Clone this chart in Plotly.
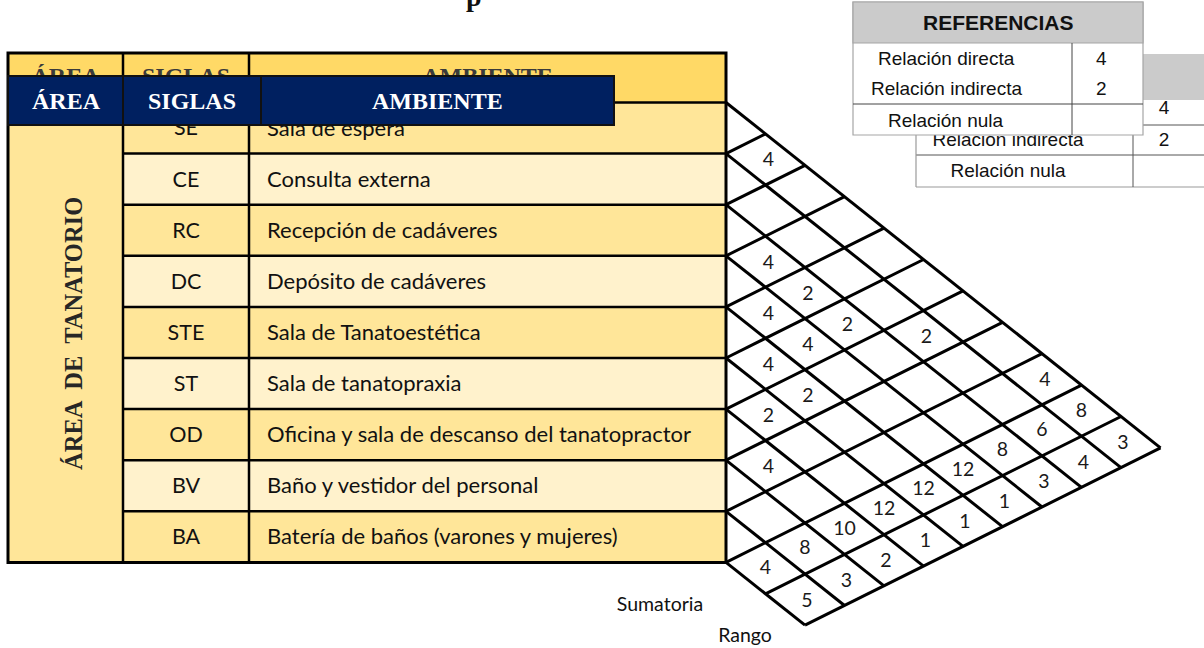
import plotly.graph_objects as go

# ---------------- data ----------------
siglas = ["SE", "CE", "RC", "DC", "STE", "ST", "OD", "BV", "BA"]
ambientes = [
    "Sala de espera",
    "Consulta externa",
    "Recepción de cadáveres",
    "Depósito de cadáveres",
    "Sala de Tanatoestética",
    "Sala de tanatopraxia",
    "Oficina y sala de descanso del tanatopractor",
    "Baño y vestidor del personal",
    "Batería de baños (varones y mujeres)",
]
area_label = "ÁREA  DE  TANATORIO"
header_labels = ["ÁREA", "SIGLAS", "AMBIENTE"]
# relationship matrix (row index i, row index j, value)
rel_from = [0, 0, 1, 2, 2, 2, 3, 3, 4, 4, 5, 6]
rel_to = [1, 8, 6, 3, 4, 5, 4, 5, 5, 6, 6, 7]
rel_value = [4, 4, 2, 4, 2, 2, 4, 4, 4, 2, 2, 4]
sumatoria = [8, 6, 8, 12, 12, 12, 10, 8, 4]
rango = [3, 4, 3, 1, 1, 1, 2, 3, 5]
extra_rows = ["Sumatoria", "Rango"]
ref_title = "REFERENCIAS"
ref_labels = ["Relación directa", "Relación indirecta", "Relación nula"]
ref_values = ["4", "2", ""]
title_fragment = "p"

# ---------------- layout constants ----------------
W, H = 1204, 648
X0, XA, XS, XR = 8, 123, 249, 726
Y_TOP, Y_HDR, RH = 53, 102.5, 51.1
UX, UY = 39.5, 31.4
N = len(siglas)

NAVY = "#002060"
Y_HEAD = "#FFD966"
Y_DARK = "#FFE699"
Y_LIGHT = "#FFF2CC"
SERIF = "Liberation Serif, Times New Roman, serif"
SANS = "Lato, Carlito, Calibri, sans-serif"
NARROW = "Liberation Sans Narrow, Arial Narrow, Liberation Sans, sans-serif"


def row_y(k):
    return Y_HDR + k * RH


def lat(a, b):
    d = b - a
    return XR + d * UX, row_y(a) + d * UY


def center(i, j):
    d = j - i
    return XR + d * UX, Y_HDR + (i + 0.5) * RH + d * UY


shapes = []


def rect(x0, y0, x1, y1, fill=None, color=None, width=0, layer="below"):
    shapes.append(dict(type="rect", xref="x", yref="y", x0=x0, y0=y0, x1=x1, y1=y1,
                       fillcolor=fill if fill else "rgba(0,0,0,0)",
                       line=dict(color=color if color else "rgba(0,0,0,0)", width=width),
                       layer=layer))


def line(x0, y0, x1, y1, color="black", width=3, layer="below"):
    shapes.append(dict(type="line", xref="x", yref="y", x0=x0, y0=y0, x1=x1, y1=y1,
                       line=dict(color=color, width=width), layer=layer))


# ---- table fills ----
rect(X0, Y_TOP, XR, Y_HDR, fill=Y_HEAD)
rect(X0, Y_HDR, XA, row_y(N), fill=Y_DARK)
for k in range(N):
    rect(XA, row_y(k), XR, row_y(k + 1), fill=Y_DARK if k % 2 == 0 else Y_LIGHT)
# ---- table lines ----
line(X0, Y_HDR, XR, Y_HDR, width=2.5)
for k in range(1, N):
    line(XA, row_y(k), XR, row_y(k), width=2.5)
line(XA, Y_TOP, XA, row_y(N), width=2.5)
line(XS, Y_TOP, XS, row_y(N), width=2.5)
rect(X0, Y_TOP, XR, row_y(N), color="black", width=3)

# ---- relationship grid ----
NB = N + 2
for a in range(N + 1):
    xa, ya = lat(a, a)
    xb, yb = lat(a, NB)
    line(xa, ya, xb, yb, width=3)
for b in range(1, NB + 1):
    xa, ya = lat(min(b, N), b)
    xb, yb = lat(0, b)
    line(xa, ya, xb, yb, width=3)

# ---- back legend box (below) ----
BX0, BXD = 916, 1133
rect(BX0, 54, W + 5, 100, fill="#CBCBCB")
line(BX0, 125, W + 5, 125, color="#555555", width=1)
line(BX0, 155, W + 5, 155, color="#555555", width=1)
line(BX0, 187, W + 5, 187, color="#9A9A9A", width=1.2)
line(BX0, 54, BX0, 187, color="#9A9A9A", width=1.2)
line(BXD, 100, BXD, 187, color="#555555", width=1)

# ---- navy header box (above) ----
rect(X0, 76, 614, 125, fill=NAVY, color="#111111", width=2, layer="above")
line(XA, 76, XA, 125, color="#111111", width=2, layer="above")
line(261, 76, 261, 125, color="#111111", width=2, layer="above")

# ---- front legend box (above) ----
FX0, FX1, FXD = 853, 1143, 1072
rect(FX0, 2, FX1, 135, fill="white", color="#A6A6A6", width=1.2, layer="above")
rect(FX0, 2, FX1, 43, fill="#CBCBCB", color="#A6A6A6", width=1.2, layer="above")
line(FX0, 104, FX1, 104, color="#444444", width=1, layer="above")
line(FXD, 43, FXD, 135, color="#444444", width=1, layer="above")

fig = go.Figure()

# table text (under the navy header)
fig.add_trace(go.Scatter(
    x=[(XA + XS) / 2] * N, y=[row_y(k) + RH / 2 + 2 for k in range(N)],
    text=siglas, mode="text", textposition="middle center",
    textfont=dict(family=SANS, size=21.5, color="#111111"),
    hoverinfo="skip", showlegend=False, cliponaxis=False))
fig.add_trace(go.Scatter(
    x=[267] * N, y=[row_y(k) + RH / 2 + 2 for k in range(N)],
    text=ambientes, mode="text", textposition="middle right",
    textfont=dict(family=SANS, size=22, color="#111111"),
    hoverinfo="skip", showlegend=False, cliponaxis=False))
# hidden yellow header text
fig.add_trace(go.Scatter(
    x=[(X0 + XA) / 2, (XA + XS) / 2, (XS + XR) / 2], y=[78, 78, 78],
    text=[f"<b>{t}</b>" for t in header_labels], mode="text", textposition="middle center",
    textfont=dict(family=SERIF, size=24, color="#3a3a3a"),
    hoverinfo="skip", showlegend=False, cliponaxis=False))
# grid numbers
gx, gy, gt = [], [], []
for i, j, v in zip(rel_from, rel_to, rel_value):
    cx, cy = center(i, j)
    gx.append(cx + 3); gy.append(cy + 2); gt.append(str(v))
for i, v in enumerate(sumatoria):
    cx, cy = center(i, N)
    gx.append(cx); gy.append(cy + 1); gt.append(str(v))
for i, v in enumerate(rango):
    cx, cy = center(i, N + 1)
    gx.append(cx + 2); gy.append(cy + 2); gt.append(str(v))
fig.add_trace(go.Scatter(
    x=gx, y=gy, text=gt, mode="text", textposition="middle center",
    textfont=dict(family=SANS, size=19.5, color="#1a1a1a"),
    hoverinfo="skip", showlegend=False, cliponaxis=False))
# Sumatoria / Rango labels
fig.add_trace(go.Scatter(
    x=[660, 745], y=[606, 637], text=extra_rows, mode="text", textposition="middle center",
    textfont=dict(family=SANS, size=19.5, color="#111111"),
    hoverinfo="skip", showlegend=False, cliponaxis=False))
# back legend text
fig.add_trace(go.Scatter(
    x=[1008, 1008, 1164, 1164], y=[141, 172, 109, 141],
    text=[ref_labels[1], ref_labels[2], ref_values[0], ref_values[1]],
    mode="text", textposition="middle center",
    textfont=dict(family=NARROW, size=19, color="#111111"),
    hoverinfo="skip", showlegend=False, cliponaxis=False))

annotations = []
# navy header labels
for lbl, x in zip(header_labels, [66, 192, 437]):
    annotations.append(dict(x=x, y=101, text=f"<b>{lbl}</b>", showarrow=False,
                            font=dict(family=SERIF, size=24, color="white")))
# vertical area label
annotations.append(dict(x=73, y=334, text=f"<b>{area_label}</b>", textangle=-90, showarrow=False,
                        font=dict(family=SERIF, size=24.5, color="#262626")))
# front legend
annotations.append(dict(x=(FX0 + FX1) / 2, y=22, text=f"<b>{ref_title}</b>", showarrow=False,
                        font=dict(family=NARROW, size=21, color="#111111")))
for k, (lbl, val) in enumerate(zip(ref_labels, ref_values)):
    yy = [58, 88, 120][k]
    annotations.append(dict(x=946, y=yy, text=lbl, showarrow=False,
                            font=dict(family=NARROW, size=19, color="#111111")))
    if val:
        annotations.append(dict(x=1101, y=yy, text=val, showarrow=False,
                                font=dict(family=NARROW, size=19, color="#111111")))
# cut-off title fragment (above the top edge)
annotations.append(dict(x=474, xref="x", y=1, yref="paper", yanchor="middle", yshift=4,
                        text=f"<b>{title_fragment}</b>", showarrow=False,
                        font=dict(family=SERIF, size=28, color="#111111")))

fig.update_layout(
    width=W, height=H, margin=dict(l=0, r=0, t=0, b=0),
    paper_bgcolor="white", plot_bgcolor="white",
    xaxis=dict(range=[0, W], visible=False, fixedrange=True),
    yaxis=dict(range=[H, 0], visible=False, fixedrange=True),
    shapes=shapes, annotations=annotations, showlegend=False,
)
fig.write_html(
    "out.html",
    config={"displayModeBar": False, "staticPlot": True},
    post_script="document.body.style.margin='0';document.body.style.overflow='hidden';"
                "document.documentElement.style.overflow='hidden';",
)
